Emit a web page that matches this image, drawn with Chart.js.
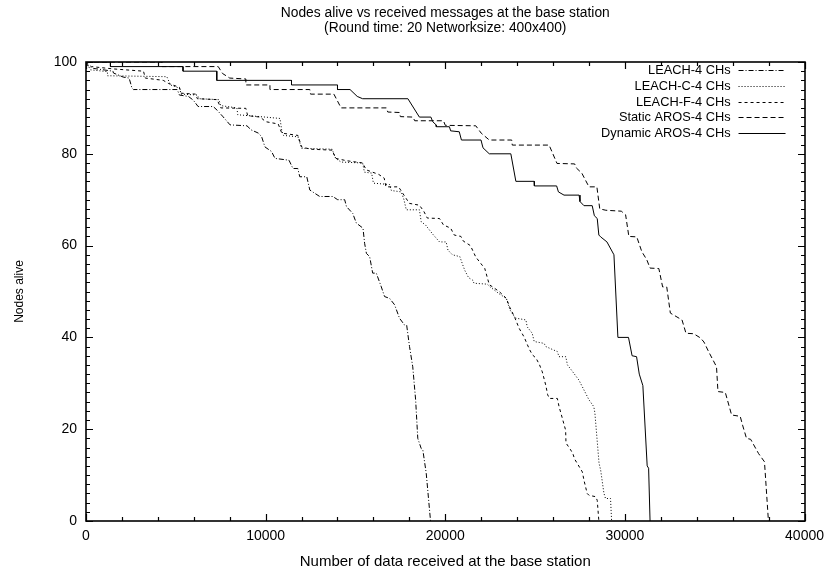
<!DOCTYPE html>
<html>
<head>
<meta charset="utf-8">
<title>Nodes alive vs received messages</title>
<script src="https://cdn.jsdelivr.net/npm/chart.js@4.4.0/dist/chart.umd.min.js"></script>
<style>
  html, body { margin: 0; padding: 0; background: #fff; }
  #wrap { width: 831px; height: 573px; }
</style>
</head>
<body>
<div id="wrap"><canvas id="aliveChart" width="831" height="573"></canvas></div>
<script>
// Each series: [messages received at base station, nodes alive]
const leach = [[0,100],[70,99.3],[420,98.6],[1500,98],[1530,97.6],[2080,96.7],[2400,96.5],[2560,94.3],[2640,94],[5080,94],[5200,92.8],[5700,92.5],[5970,91.7],[6240,90.3],[7080,90.3],[7300,89.5],[7600,88.2],[8020,86.3],[8960,86.1],[9200,85.2],[9600,84.5],[9780,83.7],[9960,81.5],[10330,80.5],[10520,79],[11300,78.6],[11520,76.8],[11790,76.8],[11900,75],[12290,75],[12460,72.1],[13010,70.7],[13740,70.7],[14010,70],[14400,70],[14500,68.5],[14850,67],[15050,64.9],[15420,63.8],[15510,60.5],[15610,58.3],[15790,57.6],[15960,54],[16160,54],[16440,51],[16620,48.9],[16900,48.5],[17180,47.1],[17450,44.2],[17730,42.7],[17850,42.7],[18010,38],[18190,33.6],[18350,26.4],[18470,18],[18660,15.8],[18750,15.5],[18940,10.4],[19180,0]];

const leachC = [[0,100],[250,98.3],[1190,97.9],[1200,97],[3000,96.9],[4500,96.8],[4700,95],[5200,94.3],[5300,93],[6200,92.8],[6300,92],[7400,91.8],[7500,90.5],[8400,90],[8450,88.5],[9700,88.1],[10800,87.7],[10900,85],[11000,84],[11800,83.7],[12000,81.2],[13700,81],[13900,79],[14200,78.2],[15400,78],[15500,76],[15900,75.8],[16000,73.6],[16900,73.3],[17000,72],[17550,71.7],[17700,70],[17830,67.8],[18560,67.8],[18660,65.2],[18900,64.5],[19200,63],[19300,62.5],[19680,60.8],[20050,60.8],[20150,59],[20400,58],[20810,57.6],[21000,55.5],[21100,54.5],[21300,53],[21520,52.5],[21600,51.8],[22340,51.6],[22500,51],[23000,49.5],[23400,48.5],[23600,46],[23850,44.5],[23930,44.2],[24490,43.8],[24560,42.3],[24840,40.9],[24950,39.1],[25500,38.7],[25600,38],[26240,36.9],[26330,35.8],[26710,35.8],[26800,34],[27000,33],[27440,30.7],[28000,26.4],[28270,24.9],[28330,23.5],[28560,12.6],[28650,11.1],[28830,6.1],[28920,4.9],[29200,4.9],[29260,0]];

const leachF = [[0,100],[300,99],[1500,98.5],[3200,98],[3300,96.5],[4300,96],[4600,95.3],[5200,94.5],[5300,93.2],[6100,93],[6200,92],[7300,91.8],[7500,90],[8900,89.9],[9000,88.3],[9700,88],[10000,87],[10700,86.5],[10900,84.5],[11800,84],[12000,81.5],[12500,81],[13700,80.8],[13900,79],[14500,78.5],[15400,78],[15600,76.5],[16300,75.5],[16600,74.7],[16700,72.8],[17400,72.8],[17700,71],[18000,69.2],[18560,68.8],[18800,67.5],[19000,66],[19680,65.9],[19900,64.5],[20300,63.8],[20500,62.3],[20870,62],[21000,61],[21400,60],[21700,57.5],[22200,55],[22450,51.5],[23000,50],[23400,48.5],[23600,46.5],[23850,44.5],[24110,42],[24400,40],[24560,38.5],[24700,37.3],[24850,36.2],[25050,35.5],[25250,34],[25400,32.5],[25600,29.5],[25700,27.5],[25800,26.7],[26240,26.7],[26330,25],[26700,19.8],[26720,17],[26980,15.5],[27100,14.7],[27200,13.5],[27630,10.7],[27720,8.9],[27900,6],[28000,5.6],[28370,5.3],[28460,4.5],[28550,0]];

const staticAros = [[0,100],[4230,100],[4230,99],[7360,99],[7600,97.5],[8000,96.5],[8900,96.3],[8900,95],[10240,95],[10240,94],[12460,94],[12500,93],[13800,93],[14200,90],[16720,90],[16800,89.1],[17450,89],[17500,88.1],[18200,88],[18300,87.2],[19900,87.2],[20000,86.2],[21700,86.1],[22000,84.5],[22450,83],[23700,83],[23730,81.9],[25780,81.9],[26220,77.9],[27200,77.8],[27300,76.9],[27600,75.8],[28000,72.8],[28440,72.8],[28600,68],[28940,67.7],[29800,67.5],[30040,66.7],[30220,62],[30660,61.9],[30940,58.7],[31220,56.9],[31400,55.1],[31890,55],[32100,51],[32330,51],[32530,45.3],[33180,43.8],[33400,40.9],[33830,40.8],[34200,39.9],[34400,39],[34660,36.9],[35100,33.6],[35180,28.2],[35590,28],[35940,23.1],[36420,22.8],[36550,20.9],[36770,18],[37000,17.8],[37440,14.7],[37770,12.9],[37990,0]];

const dynamicAros = [[0,100],[1360,100],[1360,99],[5400,99],[5400,98],[7280,98],[7280,96],[11440,96],[11440,95],[14000,95],[14000,94],[14700,94],[15100,92.5],[15400,92],[17920,92],[18560,88],[19200,88],[19300,87],[19490,86.3],[19500,85.9],[20230,85.9],[20300,85],[20780,84.8],[20900,83],[21990,83],[22100,81.3],[22450,80],[23650,80],[23930,74],[24950,74],[24960,73],[26200,73],[26300,71.7],[26610,71],[27450,71],[27500,69.6],[27720,68.7],[28180,68.7],[28300,66.5],[28460,65.9],[28550,62.3],[28650,61.9],[29000,60.8],[29390,58],[29610,40],[30200,40],[30400,36],[30650,35.8],[30800,32],[31000,29.5],[31240,12],[31320,11.5],[31400,0]];

const seriesNames = ['LEACH-4 CHs', 'LEACH-C-4 CHs', 'LEACH-F-4 CHs', 'Static AROS-4 CHs', 'Dynamic AROS-4 CHs'];
const titleLines = ['Nodes alive vs received messages at the base station', '(Round time: 20 Networksize: 400x400)'];
const xTicks = [0, 10000, 20000, 30000, 40000];
const yTicks = [0, 20, 40, 60, 80, 100];

const FONT = '"Liberation Sans", Arial, Helvetica, sans-serif';
const toPoints = arr => arr.map(p => ({ x: p[0], y: p[1] }));

function lineSet(label, data, dash) {
    return {
        label: label,
        data: toPoints(data),
        borderColor: '#000',
        borderWidth: 1,
        borderDash: dash,
        pointRadius: 0,
        tension: 0,
        fill: false
    };
}

// Key in the top right corner: right-aligned text with line sample after it
const keyBox = {
    id: 'keyBox',
    afterDatasetsDraw(chart) {
        const { ctx, chartArea: a } = chart;
        ctx.save();
        ctx.font = '12.8px ' + FONT;
        ctx.fillStyle = '#000';
        ctx.strokeStyle = '#000';
        ctx.lineWidth = 1;
        ctx.textAlign = 'right';
        ctx.textBaseline = 'middle';
        chart.data.datasets.forEach((ds, i) => {
            const ky = Math.round(a.top + 8 + i * 15.8) + 0.5;
            ctx.fillText(ds.label, a.right - 74, ky);
            ctx.setLineDash(ds.borderDash || []);
            ctx.beginPath();
            ctx.moveTo(a.right - 66, ky);
            ctx.lineTo(a.right - 19, ky);
            ctx.stroke();
        });
        ctx.restore();
    }
};

// Frame round the plot with inward major/minor ticks on every side, and the title above it
const frameTicks = {
    id: 'frameTicks',
    afterDraw(chart) {
        const ctx = chart.ctx;
        const a = chart.chartArea;
        const xs = chart.scales.x;
        const ys = chart.scales.y;
        ctx.save();
        ctx.setLineDash([]);
        ctx.strokeStyle = '#000';
        const L = Math.round(a.left), R = Math.round(a.right);
        const T = Math.round(a.top), B = Math.round(a.bottom);
        ctx.lineWidth = 1.6;
        ctx.strokeRect(L, T, R - L, B - T);
        ctx.lineWidth = 1.2;
        ctx.beginPath();
        for (let v = 0; v <= 40000; v += 2000) {
            const px = Math.round(xs.getPixelForValue(v)) + 0.5;
            const len = v % 10000 === 0 ? 7 : 4;
            ctx.moveTo(px, B); ctx.lineTo(px, B - len);
            ctx.moveTo(px, T); ctx.lineTo(px, T + len);
        }
        for (let v = 0; v <= 100; v += 2) {
            const py = Math.round(ys.getPixelForValue(v)) + 0.5;
            const len = v % 20 === 0 ? 7 : 4;
            ctx.moveTo(L, py); ctx.lineTo(L + len, py);
            ctx.moveTo(R, py); ctx.lineTo(R - len, py);
        }
        ctx.stroke();

        ctx.fillStyle = '#000';
        ctx.font = '13.8px ' + FONT;
        ctx.textAlign = 'center';
        ctx.textBaseline = 'middle';
        const cx = (a.left + a.right) / 2;
        ctx.fillText(titleLines[0], cx, 13);
        ctx.fillText(titleLines[1], cx, 28);
        ctx.restore();
    }
};

Chart.defaults.font.family = FONT;
Chart.defaults.font.size = 14;
Chart.defaults.color = '#000';

new Chart(document.getElementById('aliveChart'), {
    type: 'line',
    data: {
        datasets: [
            lineSet(seriesNames[0], leach, [5, 2, 1, 2]),
            lineSet(seriesNames[1], leachC, [1, 2]),
            lineSet(seriesNames[2], leachF, [3, 3]),
            lineSet(seriesNames[3], staticAros, [5, 3]),
            lineSet(seriesNames[4], dynamicAros, [])
        ]
    },
    options: {
        responsive: false,
        animation: false,
        devicePixelRatio: 1,
        layout: { padding: { left: 0, top: 62, right: 25, bottom: 0 } },
        plugins: {
            legend: { display: false },
            tooltip: { enabled: false },
            title: { display: false }
        },
        scales: {
            x: {
                type: 'linear',
                min: 0,
                max: 40000,
                afterBuildTicks: s => { s.ticks = xTicks.map(v => ({ value: v })); },
                afterFit: s => { s.height = 52; },
                grid: { display: false, drawTicks: false },
                border: { display: false },
                ticks: { padding: 7, maxRotation: 0, callback: v => String(v) },
                title: { display: true, text: 'Number of data received at the base station', font: { size: 15 }, padding: { top: 0, bottom: 2 } }
            },
            y: {
                type: 'linear',
                min: 0,
                max: 100,
                afterBuildTicks: s => { s.ticks = yTicks.map(v => ({ value: v })); },
                afterFit: s => { s.width = 86; },
                grid: { display: false, drawTicks: false },
                border: { display: false },
                ticks: { padding: 9, callback: v => String(v) },
                title: { display: true, text: 'Nodes alive', font: { size: 12 }, padding: { top: 12, bottom: 0 } }
            }
        }
    },
    plugins: [keyBox, frameTicks]
});
</script>
</body>
</html>
